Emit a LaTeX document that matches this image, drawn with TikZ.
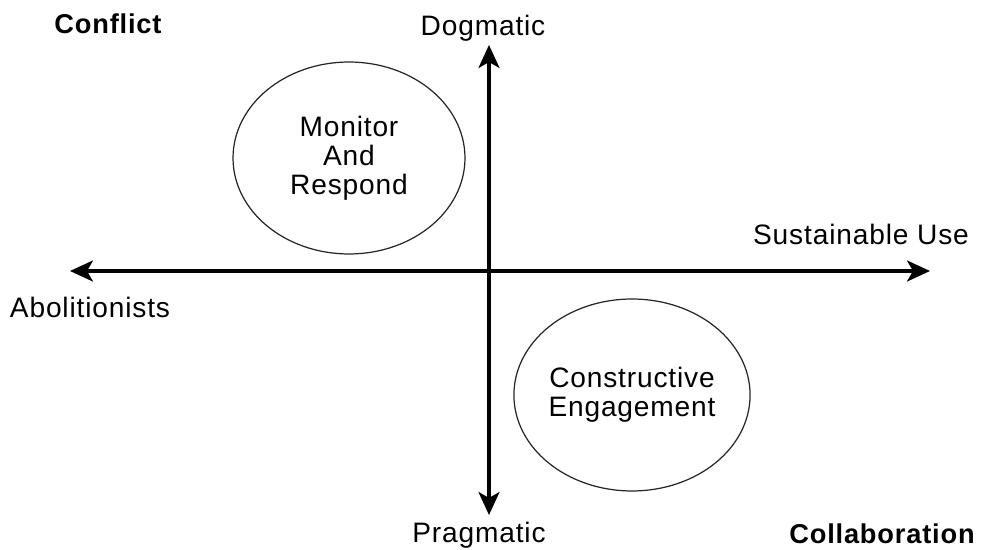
\documentclass[tikz,border=0pt]{standalone}
\usepackage{fontspec}
\setmainfont{Liberation Sans}[LetterSpace=3]
\usepackage{tikz}
\usetikzlibrary{arrows.meta, shapes.geometric, positioning}

\tikzset{
  axis/.style={line width=1.8pt, {Stealth[length=0.46cm, width=0.42cm, inset=0.12cm]}-{Stealth[length=0.46cm, width=0.42cm, inset=0.12cm]}},
  bubble/.style={draw=black!85, line width=0.7pt, ellipse, minimum width=4.64cm,
                 minimum height=3.84cm, inner sep=0pt, align=center,
                 font=\fontsize{16pt}{16.5pt}\selectfont},
  pole/.style={anchor=base, inner sep=0pt, font=\fontsize{16pt}{18pt}\selectfont},
  corner/.style={anchor=base, inner sep=0pt,
                 font=\fontsize{15.5pt}{18pt}\selectfont\bfseries\addfontfeatures{LetterSpace=3}}
}

\begin{document}
\begin{tikzpicture}[x=0.02cm, y=-0.02cm]
  \useasboundingbox (0,0) rectangle (988,550);

  % axis end points
  \coordinate (west)  at (70,271);
  \coordinate (east)  at (930,271);
  \coordinate (north) at (489,45);
  \coordinate (south) at (489,515);

  \draw[axis] (west) -- (east);
  \draw[axis] (south) -- (north);

  % the two strategies
  \node[bubble] (monitor) at (349,158) {Monitor\\And\\Respond};
  \node[bubble] (engage)  at (632,395) {Constructive\\Engagement};

  % axis labels
  \node[pole] (dogmatic)    at (483,36)  {Dogmatic};
  \node[pole] (pragmatic)   at (479,543) {Pragmatic};
  \node[pole] (sustainable) at (861,245) {Sustainable Use};
  \node[pole] (abolition)   at (90,318)  {Abolitionists};

  % corners
  \node[corner] (conflict)      at (108,34)  {Conflict};
  \node[corner] (collaboration) at (882,544) {Collaboration};
\end{tikzpicture}
\end{document}
